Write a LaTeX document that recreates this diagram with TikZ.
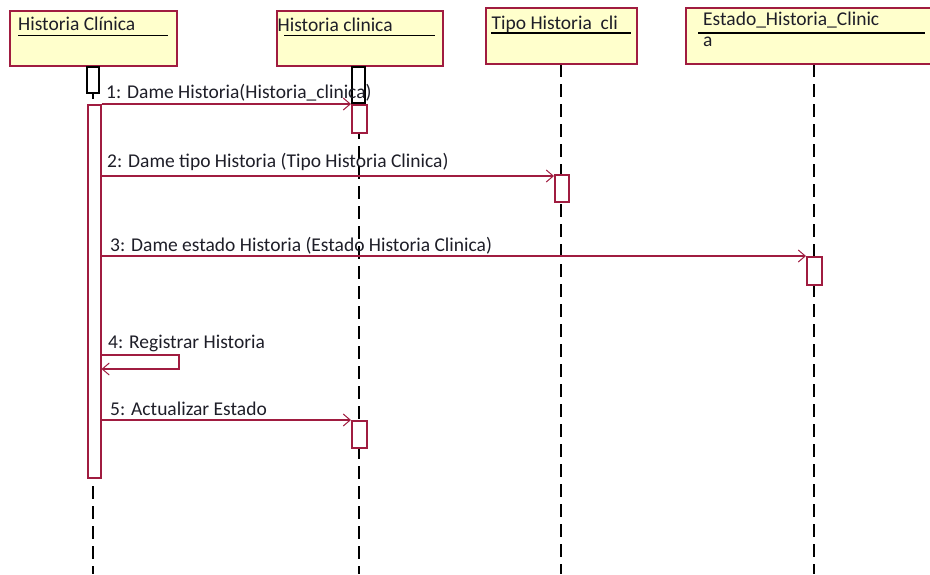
\documentclass[tikz,border=0pt]{standalone}
\usepackage{fontspec}
\setmainfont{Carlito}
\usetikzlibrary{arrows.meta}
\definecolor{umlred}{RGB}{160,28,64}
\definecolor{umlyel}{RGB}{255,255,204}
\definecolor{txt}{RGB}{30,30,40}
\tikzset{
  objbox/.style={draw=umlred, fill=umlyel, line width=1.8pt},
  lifeline/.style={draw=black, line width=2pt, dash pattern=on 13pt off 7pt},
  actbox/.style={draw=umlred, fill=white, line width=1.5pt},
  focusblk/.style={draw=black, fill=white, line width=2pt},
  msg/.style={draw=umlred, line width=1.3pt, -{Straight Barb[length=7pt,width=12pt,line width=1pt]}},
  lbl/.style={anchor=base west, inner sep=0pt, text=txt, font=\fontsize{19.5}{22}\selectfont},
  ttl/.style={anchor=base west, inner sep=0pt, text=txt, font=\fontsize{19.5}{22}\selectfont},
  uline/.style={draw=black, line width=1.4pt}
}
\begin{document}
\begin{tikzpicture}[x=1pt,y=-1pt]
\useasboundingbox (0,0) rectangle (930,574);
% lifelines
\coordinate (l1t) at (93,66); \coordinate (l1b) at (93,574);
\coordinate (l2t) at (359,66); \coordinate (l2b) at (359,574);
\coordinate (l3t) at (561,64); \coordinate (l3b) at (561,574);
\coordinate (l4t) at (814,64); \coordinate (l4b) at (814,574);
\draw[lifeline] (l1t) -- (l1b);
\draw[lifeline] (l2t) -- (l2b);
\draw[lifeline] (l3t) -- (l3b);
\draw[lifeline] (l4t) -- (l4b);
% object boxes
\draw[objbox] (10,11) rectangle (177,66);
\node[ttl] (t1) at (18,30.7) {Historia Clínica};
\draw[uline] (18,35.5) -- (168,35.5);
\draw[objbox] (277,11) rectangle (443,66);
\node[ttl] (t2) at (277.5,31.7) {Historia clinica};
\draw[uline] (284,35.5) -- (435,35.5);
\draw[objbox] (486,8) rectangle (637,64);
\node[ttl] (t3) at (491.5,29.3) {Tipo Historia\ \ cli};
\draw[uline] (491,33) -- (631,33);
\draw[objbox] (686,8) rectangle (932,64);
\node[ttl] (t4) at (703,25) {Estado\_Historia\_Clinic};
\draw[uline] (698,33) -- (925,33);
\node[ttl] (t4b) at (703,46.7) {a};
% focus / activation
\draw[focusblk] (87,67) rectangle (99,93);
\draw[focusblk] (352,67) rectangle (365,103);
\node[actbox, minimum width=13pt, minimum height=373pt, inner sep=0pt, anchor=north west] (a1) at (87,104) {};
\node[actbox, minimum width=15pt, minimum height=28pt, inner sep=0pt, anchor=north west] (a2) at (351,104) {};
\node[actbox, minimum width=14pt, minimum height=27pt, inner sep=0pt, anchor=north west] (a3) at (554,174) {};
\node[actbox, minimum width=15pt, minimum height=28pt, inner sep=0pt, anchor=north west] (a4) at (806,256) {};
\node[actbox, minimum width=15pt, minimum height=27pt, inner sep=0pt, anchor=north west] (a5) at (351,420) {};
% messages
\draw[msg] (a1.north east) -- (a2.north west);
\node[lbl] (m1) at (106,98) {1: Dame Historia(Historia\_clinica)};
\coordinate (p2) at (100,176);
\draw[msg] (p2) -- (a3.west |- p2);
\node[lbl] (m2) at (107,167) {2: Dame tipo Historia (Tipo Historia Clinica)};
\draw[msg] (a1.east |- a4.north) -- (a4.north west);
\node[lbl] (m3) at (110,251.5) {3: Dame estado Historia (Estado Historia Clinica)};
\coordinate (s1) at (179,355); \coordinate (s2) at (179,369);
\draw[msg] (a1.east |- s1) -- (s1) -- (s2) -- (a1.east |- s2);
\node[lbl] (m4) at (108,348) {4: Registrar Historia};
\draw[msg] (a1.east |- a5.north) -- (a5.north west);
\node[lbl] (m5) at (110,415) {5: Actualizar Estado};
\end{tikzpicture}
\end{document}
